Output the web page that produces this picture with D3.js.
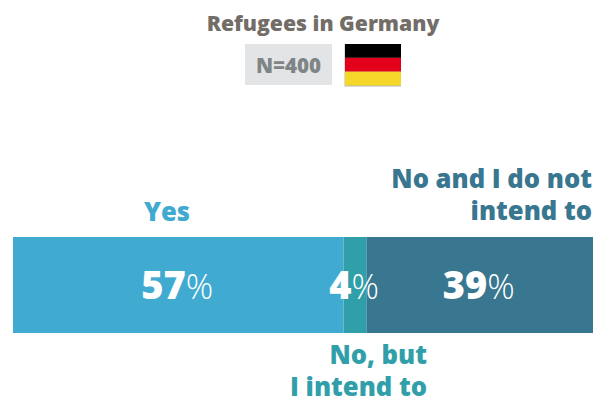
<!DOCTYPE html>
<html>
<head>
<meta charset="utf-8">
<script src="https://cdnjs.cloudflare.com/ajax/libs/d3/7.8.5/d3.min.js"></script>
<style>
html,body{margin:0;padding:0;background:#fff;}
svg{display:block;}
text{font-family:"Open Sans",sans-serif;}
</style>
</head>
<body>
<svg id="chart" width="606" height="399"></svg>
<script>
const categories = ["Yes", "No, but I intend to", "No and I do not intend to"];
const values = [57, 4, 39];
const colors = ["#41aad1", "#319fa9", "#38778f"];
const labelLines = [["Yes"], ["No, but", "I intend to"], ["No and I do not", "intend to"]];
const flagStripes = ["#000000", "#e2001a", "#f4d727"];
const title = "Refugees in Germany";
const sampleLabel = "N=400";

const svg = d3.select("#chart");

// Stacked offsets for the single bar
const stack = d3.stack().keys(d3.range(values.length))([values]);
const x = d3.scaleLinear().domain([0, d3.sum(values)]).range([13, 593]);
const barTop = 237, barHeight = 96;

// Header
svg.append("text").attr("x", 323).attr("y", 31).attr("text-anchor", "middle")
  .attr("font-size", 21.2).attr("font-weight", 800).attr("fill", "#736d68").text(title);
svg.append("rect").attr("x", 245).attr("y", 44).attr("width", 87).attr("height", 41).attr("fill", "#e3e4e6");
svg.append("text").attr("x", 288.5).attr("y", 73).attr("text-anchor", "middle")
  .attr("font-size", 20.5).attr("font-weight", 800).attr("fill", "#7f8486").text(sampleLabel);

// Flag with a hairline edge
svg.append("rect").attr("x", 344.5).attr("y", 44).attr("width", 56.5).attr("height", 42.5).attr("fill", "#b9b9b9");
const flagBand = d3.scaleBand().domain(d3.range(flagStripes.length)).range([44, 85.5]);
svg.selectAll("rect.flag").data(flagStripes).join("rect").attr("class", "flag")
  .attr("x", 345).attr("width", 56)
  .attr("y", (d, i) => flagBand(i)).attr("height", flagBand.bandwidth())
  .attr("fill", d => d);

// Bar segments
svg.selectAll("rect.segment").data(stack).join("rect").attr("class", "segment")
  .attr("x", d => x(d[0][0]))
  .attr("width", d => x(d[0][1]) - x(d[0][0]))
  .attr("y", barTop).attr("height", barHeight)
  .attr("fill", (d, i) => colors[i]);

// Value labels, placed along the value axis
const valueCentres = [28.3, 58.8, 80.3];
values.forEach((v, i) => {
  const t = svg.append("text").attr("x", x(valueCentres[i])).attr("y", 299)
    .attr("text-anchor", "middle").attr("fill", "#fff");
  t.append("tspan").attr("font-size", 38).attr("font-weight", 800).text(v);
  t.append("tspan").attr("font-size", 34).attr("font-weight", 300).text("%");
});

// Category labels, one text element per label with a tspan per line
const labelSpec = [
  { x: x(0) + 154, y: 221, anchor: "middle" },
  { x: 427, y: 364, anchor: "end" },
  { x: 592, y: 188, anchor: "end" }
];
const lineStep = 31.5;
labelLines.forEach((lines, i) => {
  const t = svg.append("text").attr("text-anchor", labelSpec[i].anchor)
    .attr("font-size", 25.6).attr("font-weight", 800).attr("fill", colors[i]);
  lines.forEach((line, j) => {
    t.append("tspan").attr("x", labelSpec[i].x).attr("y", labelSpec[i].y + j * lineStep).text(line);
  });
});
</script>
</body>
</html>
